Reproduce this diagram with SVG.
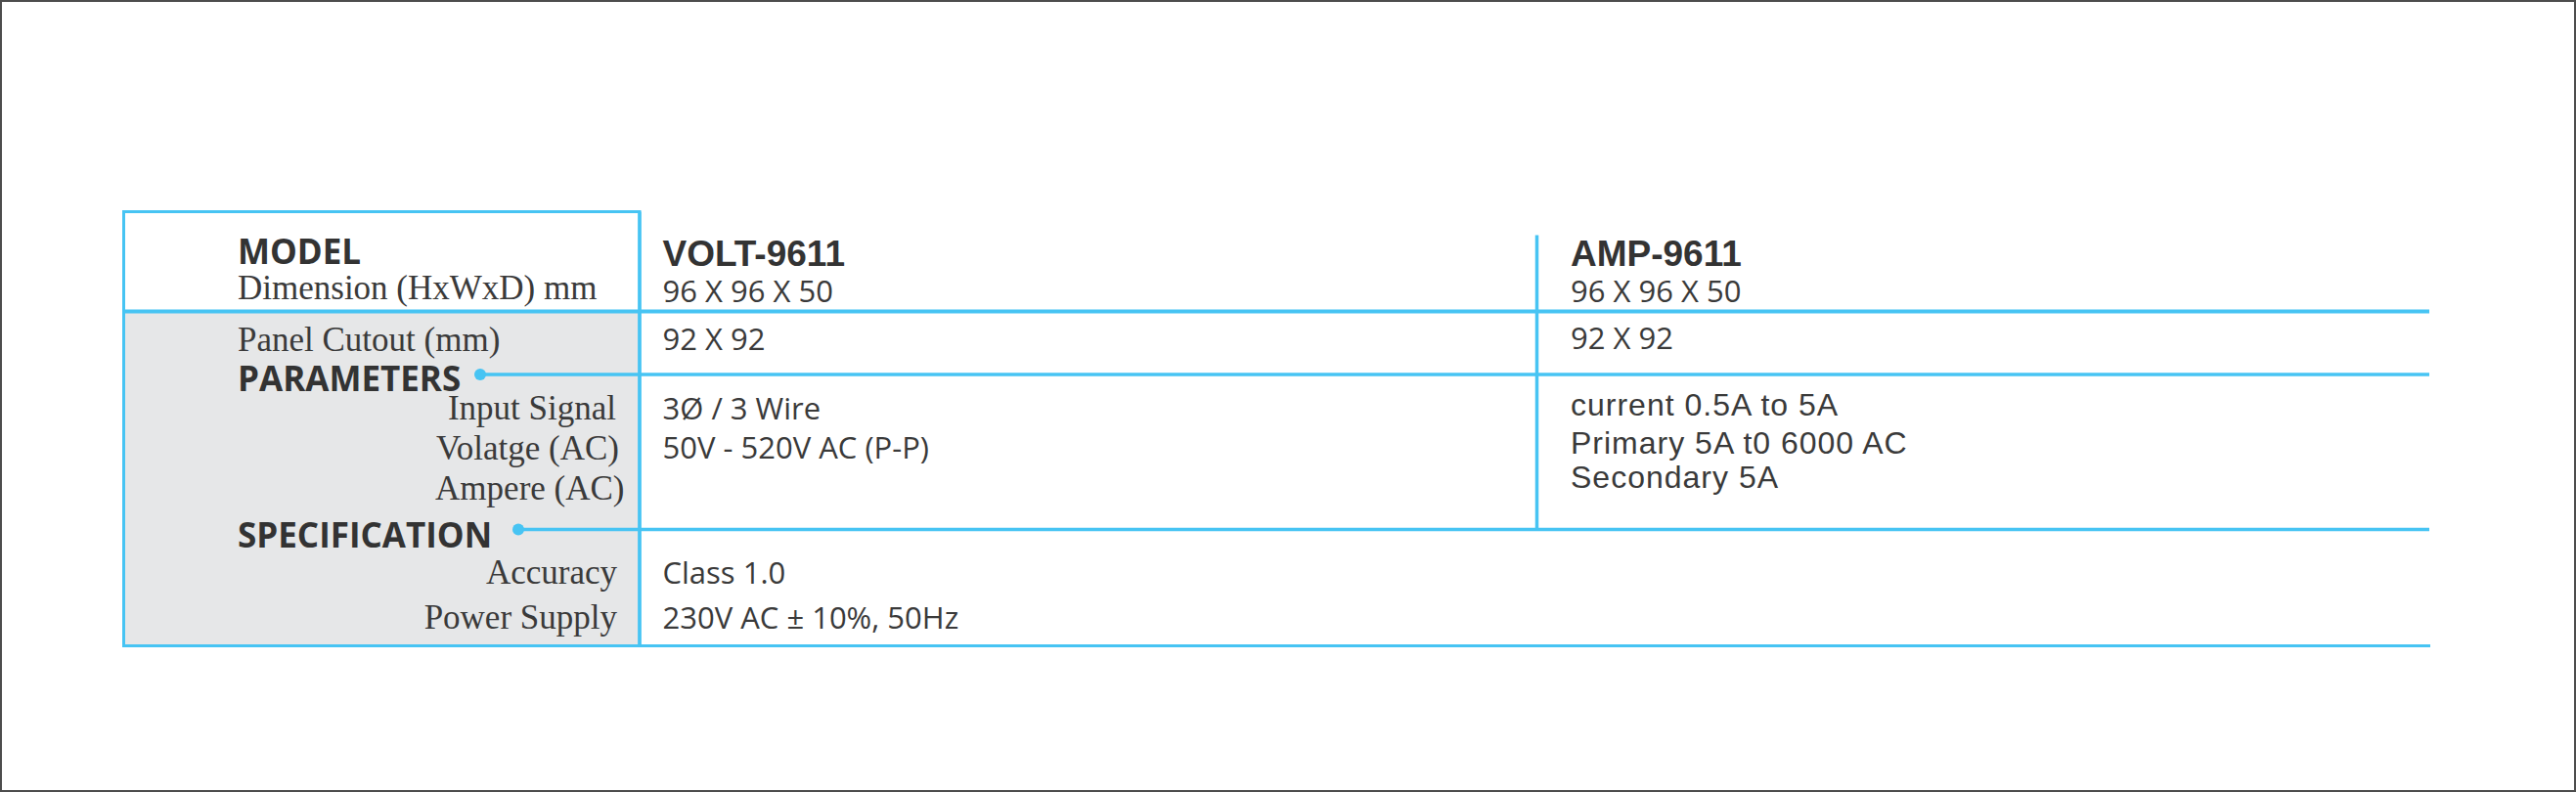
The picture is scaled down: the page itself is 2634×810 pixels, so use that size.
<svg xmlns="http://www.w3.org/2000/svg" width="2634" height="810" viewBox="0 0 2634 810">
  <style>
    .ln { stroke: #47c4f3; fill: none; }
    .dot { fill: #47c4f3; }
    .bold { font-family: "Open Sans", "Noto Sans", sans-serif; font-weight: 700; font-size: 35px; fill: #333333; }
    .serif { font-family: "Liberation Serif", "Times New Roman", serif; font-size: 35px; fill: #3a3a3a; }
    .model { font-family: "Liberation Sans", Arial, sans-serif; font-weight: 700; font-size: 37px; fill: #333333; }
    .val { font-family: "Open Sans", "Noto Sans", sans-serif; font-size: 31px; fill: #3a3a3a; }
    .arial { font-family: "Liberation Sans", Arial, sans-serif; font-size: 32px; letter-spacing: 1px; fill: #3a3a3a; }
    .end { text-anchor: end; }
  </style>
  <rect x="1" y="1" width="2632" height="808" fill="#ffffff" stroke="#4d4d4d" stroke-width="2"/>

  <g id="label-column">
    <rect x="126.5" y="216.5" width="527.5" height="102" fill="#ffffff"/>
    <rect x="126.5" y="318.5" width="527.5" height="342" fill="#e6e7e8"/>
    <rect x="126.5" y="216.5" width="527.5" height="444" class="ln" stroke-width="3"/>
    <text x="243" y="270" class="bold">MODEL</text>
    <text x="243" y="306" class="serif">Dimension (HxWxD) mm</text>
    <text x="243" y="358.5" class="serif">Panel Cutout (mm)</text>
    <text x="243" y="400" class="bold">PARAMETERS</text>
    <text x="630" y="428.5" class="serif end">Input Signal</text>
    <text x="633" y="469.5" class="serif end">Volatge (AC)</text>
    <text x="638.5" y="511" class="serif end">Ampere (AC)</text>
    <text x="243" y="560" class="bold">SPECIFICATION</text>
    <text x="631" y="597" class="serif end">Accuracy</text>
    <text x="631" y="642.5" class="serif end">Power Supply</text>
  </g>

  <g id="connectors">
    <line x1="126.5" y1="318.5" x2="2484" y2="318.5" class="ln" stroke-width="4"/>
    <line x1="491" y1="383" x2="2484" y2="383" class="ln" stroke-width="3.5"/>
    <line x1="530" y1="541.5" x2="2484" y2="541.5" class="ln" stroke-width="3.5"/>
    <line x1="126.5" y1="660.5" x2="2485" y2="660.5" class="ln" stroke-width="3"/>
    <line x1="654" y1="216.5" x2="654" y2="661.5" class="ln" stroke-width="3.5"/>
    <line x1="1571.5" y1="240.5" x2="1571.5" y2="541.5" class="ln" stroke-width="3.5"/>
    <circle cx="491" cy="383" r="6" class="dot"/>
    <circle cx="530" cy="541.5" r="6" class="dot"/>
  </g>

  <g id="volt-9611">
    <text x="677.5" y="271.5" class="model">VOLT-9611</text>
    <text x="677.5" y="309" class="val">96 X 96 X 50</text>
    <text x="677.5" y="357.5" class="val">92 X 92</text>
    <text x="677.5" y="428.5" class="val">3Ø / 3 Wire</text>
    <text x="677.5" y="469" class="val">50V - 520V AC (P-P)</text>
    <text x="677.5" y="597" class="val">Class 1.0</text>
    <text x="677.5" y="643" class="val">230V AC ± 10%, 50Hz</text>
  </g>

  <g id="amp-9611">
    <text x="1606" y="271.5" class="model">AMP-9611</text>
    <text x="1606" y="308.5" class="val">96 X 96 X 50</text>
    <text x="1606" y="357" class="val">92 X 92</text>
    <text x="1606" y="425" class="arial">current 0.5A to 5A</text>
    <text x="1606" y="463.5" class="arial">Primary 5A t0 6000 AC</text>
    <text x="1606" y="498.5" class="arial">Secondary 5A</text>
  </g>
</svg>
